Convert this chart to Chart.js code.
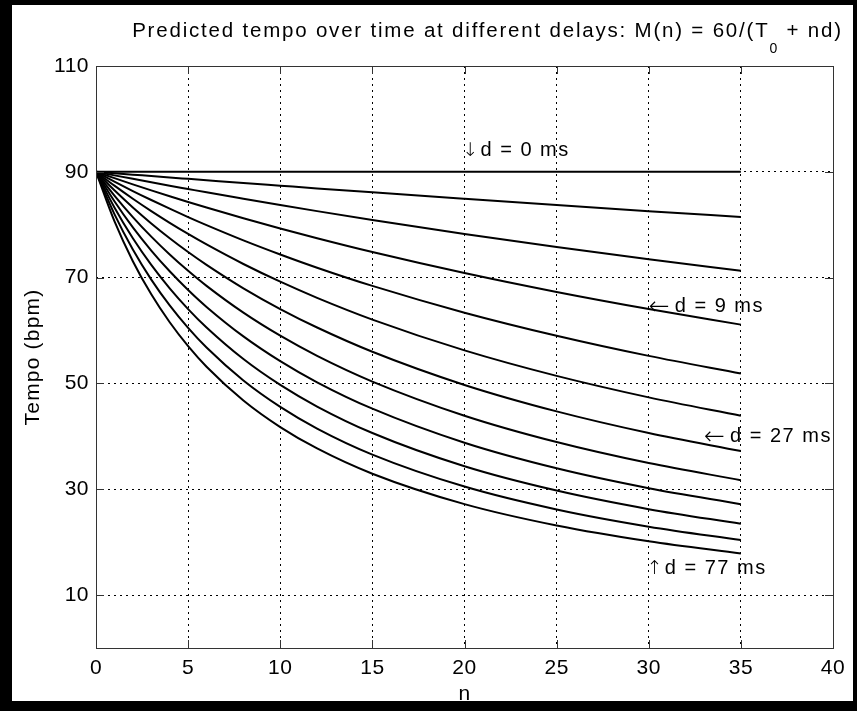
<!DOCTYPE html>
<html>
<head>
<meta charset="utf-8">
<script src="https://cdn.jsdelivr.net/npm/chart.js@4.4.1/dist/chart.umd.min.js"></script>
<style>
  html, body { margin: 0; padding: 0; background: #000; width: 857px; height: 711px; overflow: hidden; }
  #panel { position: absolute; left: 12px; top: 5px; width: 841px; height: 696px; background: #fff; }
  canvas { display: block; }
</style>
</head>
<body>
<div id="panel"><canvas id="c" width="841" height="696"></canvas></div>
<script>
// tempo M(n) at these beat indices, one array per delay
const N_VALUES = [0, 1, 2, 3, 4, 5, 6, 8, 10, 12, 15, 20, 25, 30, 35];
const DELAYS_MS = [0, 2, 5, 9, 14, 20, 27, 35, 44, 54, 65, 77];

const TEMPO_D0  = [90, 90, 90, 90, 90, 90, 90, 90, 90, 90, 90, 90, 90, 90, 90];
const TEMPO_D2  = [90, 89.73, 89.46, 89.20, 88.93, 88.67, 88.41, 87.89, 87.38, 86.87, 86.12, 84.91, 83.72, 82.57, 81.45];
const TEMPO_D5  = [90, 89.33, 88.67, 88.02, 87.38, 86.75, 86.12, 84.91, 83.72, 82.57, 80.90, 78.26, 75.79, 73.47, 71.29];
const TEMPO_D9  = [90, 88.80, 87.63, 86.50, 85.39, 84.31, 83.26, 81.23, 79.30, 77.45, 74.84, 70.87, 67.29, 64.06, 61.12];
const TEMPO_D14 = [90, 88.15, 86.37, 84.67, 83.03, 81.45, 79.93, 77.05, 74.38, 71.88, 68.44, 63.38, 59.02, 55.21, 51.87];
const TEMPO_D20 = [90, 87.38, 84.91, 82.57, 80.36, 78.26, 76.27, 72.58, 69.23, 66.18, 62.07, 56.25, 51.43, 47.37, 43.90];
const TEMPO_D27 = [90, 86.50, 83.26, 80.25, 77.45, 74.84, 72.41, 67.98, 64.06, 60.57, 55.99, 49.72, 44.72, 40.63, 37.23];
const TEMPO_D35 = [90, 85.51, 81.45, 77.75, 74.38, 71.29, 68.44, 63.38, 59.02, 55.21, 50.35, 43.90, 38.92, 34.95, 31.72];
const TEMPO_D44 = [90, 84.43, 79.50, 75.12, 71.20, 67.67, 64.47, 58.90, 54.22, 50.22, 45.23, 38.79, 33.96, 30.20, 27.19];
const TEMPO_D54 = [90, 83.26, 77.45, 72.41, 67.98, 64.06, 60.57, 54.61, 49.72, 45.64, 40.63, 34.35, 29.75, 26.24, 23.47];
const TEMPO_D65 = [90, 82.00, 75.31, 69.63, 64.75, 60.50, 56.78, 50.56, 45.57, 41.47, 36.55, 30.51, 26.18, 22.93, 20.40];
const TEMPO_D77 = [90, 80.68, 73.11, 66.84, 61.56, 57.05, 53.16, 46.78, 41.76, 37.72, 32.94, 27.19, 23.15, 20.16, 17.85];

const SERIES = [TEMPO_D0, TEMPO_D2, TEMPO_D5, TEMPO_D9, TEMPO_D14, TEMPO_D20,
                TEMPO_D27, TEMPO_D35, TEMPO_D44, TEMPO_D54, TEMPO_D65, TEMPO_D77];

const X_TICKS = [0, 5, 10, 15, 20, 25, 30, 35, 40];
const Y_TICKS = [10, 30, 50, 70, 90, 110];

// in-plot labels, anchored at (n, tempo)
const NOTE_ARROW = ['\u2193', '\u2190', '\u2190', '\u2191'];
const NOTE_TEXT  = ['d = 0 ms', 'd = 9 ms', 'd = 27 ms', 'd = 77 ms'];
const NOTE_N     = [20, 30, 33, 30];
const NOTE_BPM   = [94, 64.6, 40, 15];

const FONT = '"Liberation Sans", Arial, Helvetica, sans-serif';
const ARROW_FONT = '"DejaVu Sans", sans-serif';
const INK = '#000';
const FRAME = '#333';

const edgeClear = (edges) => (c) => (c.tick && edges.includes(c.tick.value)) ? 'rgba(0,0,0,0)' : INK;

const matlabFrame = {
  id: 'matlabFrame',
  beforeDraw(chart) {
    chart.ctx.letterSpacing = '0.5px'; // wide bitmap-ish tick digits
  },
  afterDraw(chart) {
    const { ctx, chartArea: a, scales: { x, y } } = chart;
    ctx.save();
    ctx.strokeStyle = FRAME;
    ctx.lineWidth = 1;
    ctx.setLineDash([]);
    ctx.strokeRect(Math.round(a.left) + 0.5, Math.round(a.top) + 0.5,
                   Math.round(a.right - a.left), Math.round(a.bottom - a.top));
    ctx.beginPath();
    X_TICKS.slice(1, -1).forEach(v => {
      const px = Math.round(x.getPixelForValue(v)) + 0.5;
      ctx.moveTo(px, a.bottom); ctx.lineTo(px, a.bottom - 8);
      ctx.moveTo(px, a.top); ctx.lineTo(px, a.top + 8);
    });
    Y_TICKS.slice(0, -1).forEach(v => {
      const py = Math.round(y.getPixelForValue(v)) + 0.5;
      ctx.moveTo(a.left, py); ctx.lineTo(a.left + 8, py);
      ctx.moveTo(a.right, py); ctx.lineTo(a.right - 8, py);
    });
    ctx.stroke();

    ctx.fillStyle = INK;

    // title, with subscript T0
    const head = 'Predicted tempo over time at different delays: M(n) = 60/(T';
    const sub = '0';
    const tail = ' + nd)';
    ctx.letterSpacing = '1.8px';
    ctx.font = `20.5px ${FONT}`;
    const wHead = ctx.measureText(head).width;
    const wTail = ctx.measureText(tail).width;
    ctx.font = `14px ${FONT}`;
    const wSub = ctx.measureText(sub).width;
    const cx = (a.left + a.right) / 2 + 23; // matlab puts it a bit right of centre
    let tx = cx - (wHead + wSub + wTail) / 2;
    const ty = a.top - 29;
    ctx.textAlign = 'left';
    ctx.textBaseline = 'alphabetic';
    ctx.font = `20.5px ${FONT}`;
    ctx.fillText(head, tx, ty); tx += wHead;
    ctx.font = `14px ${FONT}`;
    ctx.fillText(sub, tx, ty + 16); tx += wSub;
    ctx.font = `20.5px ${FONT}`;
    ctx.fillText(tail, tx, ty);

    // axis titles
    ctx.font = `21px ${FONT}`;
    ctx.letterSpacing = '0.5px';
    ctx.textAlign = 'center';
    ctx.fillText('n', (a.left + a.right) / 2, a.bottom + 52);
    ctx.save();
    ctx.translate(21, (a.top + a.bottom) / 2);
    ctx.rotate(-Math.PI / 2);
    ctx.letterSpacing = '1.2px';
    ctx.textBaseline = 'middle';
    ctx.fillText('Tempo (bpm)', 0, 0);
    ctx.restore();

    // curve notes: arrow glyph, then the label
    ctx.textAlign = 'left';
    ctx.textBaseline = 'middle';
    NOTE_TEXT.forEach((t, i) => {
      const px = x.getPixelForValue(NOTE_N[i]) + 1;
      const py = y.getPixelForValue(NOTE_BPM[i]);
      const horiz = NOTE_ARROW[i] === '\u2190';
      ctx.letterSpacing = '0px';
      ctx.font = `200 ${horiz ? 25 : 19}px ${ARROW_FONT}`;
      const m = ctx.measureText(NOTE_ARROW[i]);
      ctx.fillText(NOTE_ARROW[i], px + m.actualBoundingBoxLeft, py + (horiz ? 1 : 0));
      ctx.font = `20px ${FONT}`;
      ctx.letterSpacing = '1.5px';
      ctx.fillText(t, px + m.actualBoundingBoxLeft + m.actualBoundingBoxRight + 6, py);
    });
    ctx.restore();
  }
};

const datasets = SERIES.map((vals, i) => ({
  label: `d = ${DELAYS_MS[i]} ms`,
  data: vals.map((v, j) => ({ x: N_VALUES[j], y: v })),
  borderColor: INK,
  borderWidth: 2,
  pointRadius: 0,
  fill: false,
  cubicInterpolationMode: 'monotone',
}));

new Chart(document.getElementById('c'), {
  type: 'line',
  data: { datasets },
  options: {
    responsive: false,
    animation: false,
    devicePixelRatio: 1,
    layout: { padding: { top: 61, right: 20, left: 0, bottom: 0 } },
    plugins: { legend: { display: false }, tooltip: { enabled: false }, title: { display: false } },
    scales: {
      x: {
        type: 'linear', min: 0, max: 40,
        afterBuildTicks: s => { s.ticks = X_TICKS.map(v => ({ value: v })); },
        afterFit: s => { s.height = 53; },
        grid: { color: edgeClear([0, 40]), lineWidth: 1, drawTicks: false },
        border: { display: false, dash: [2, 4] },
        ticks: { color: INK, font: { family: FONT, size: 21 }, padding: 8, maxRotation: 0, autoSkip: false },
      },
      y: {
        type: 'linear', min: 0, max: 110,
        afterBuildTicks: s => { s.ticks = Y_TICKS.map(v => ({ value: v })); },
        afterFit: s => { s.width = 84; },
        grid: { color: edgeClear([0, 110]), lineWidth: 1, drawTicks: false },
        border: { display: false, dash: [2, 4] },
        ticks: { color: INK, font: { family: FONT, size: 21 }, padding: 7 },
      },
    },
  },
  plugins: [matlabFrame],
});
</script>
</body>
</html>
